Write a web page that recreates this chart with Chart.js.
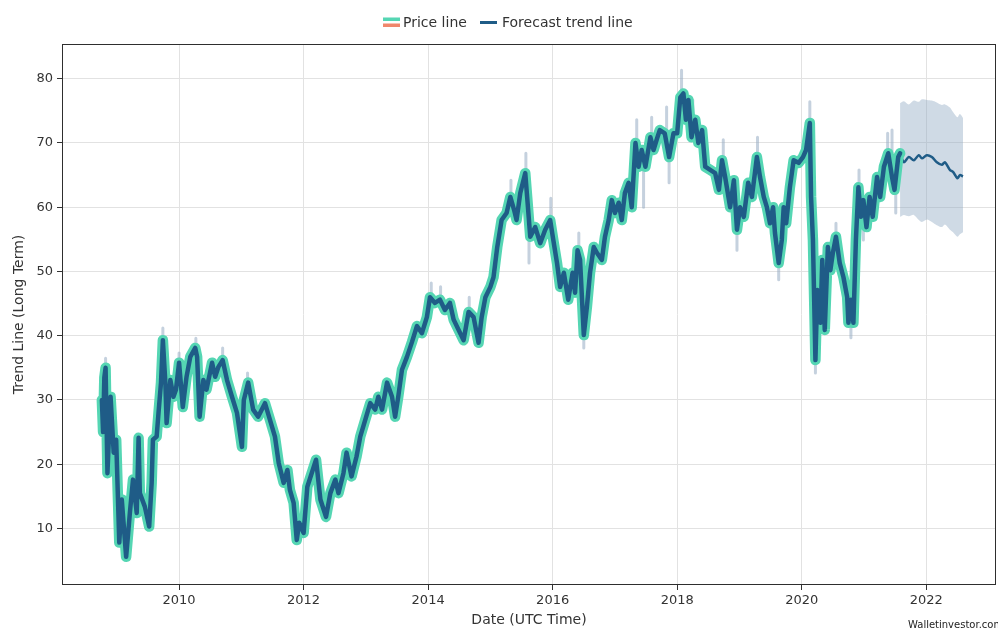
<!DOCTYPE html>
<html lang="en">
<head>
  <meta charset="UTF-8">
  <title>Trend Line (Long Term)</title>
  <script src="https://cdn.jsdelivr.net/npm/chart.js"></script>
  <style>
    html, body { margin: 0; padding: 0; background: #fff; }
    #trendChart { display: block; }
  </style>
</head>
<body>
  <canvas id="trendChart" width="998" height="631"></canvas>

  <script>
    // Price history (decimal years)
    const priceYears = [
      2008.76, 2008.78, 2008.80, 2008.82, 2008.85, 2008.90, 2008.95, 2008.99, 2009.04, 2009.08,
      2009.15, 2009.21, 2009.26, 2009.32, 2009.35, 2009.37, 2009.45, 2009.52, 2009.56, 2009.58,
      2009.64, 2009.67, 2009.71, 2009.74, 2009.78, 2009.80, 2009.86, 2009.91, 2009.95, 2010.00,
      2010.06, 2010.12, 2010.18, 2010.26, 2010.29, 2010.33, 2010.39, 2010.44, 2010.53, 2010.58,
      2010.63, 2010.70, 2010.77, 2010.85, 2010.93, 2011.01, 2011.04, 2011.11, 2011.19, 2011.27,
      2011.38, 2011.46, 2011.54, 2011.60, 2011.68, 2011.74, 2011.78, 2011.84, 2011.89, 2011.93,
      2012.00, 2012.06, 2012.13, 2012.20, 2012.27, 2012.36, 2012.43, 2012.51, 2012.56, 2012.64,
      2012.69, 2012.77, 2012.85, 2012.91, 2012.99, 2013.07, 2013.15, 2013.20, 2013.26, 2013.34,
      2013.42, 2013.47, 2013.52, 2013.58, 2013.66, 2013.74, 2013.82, 2013.90, 2013.98, 2014.03,
      2014.11, 2014.19, 2014.27, 2014.35, 2014.41, 2014.49, 2014.57, 2014.65, 2014.73, 2014.81,
      2014.86, 2014.92, 2015.00, 2015.05, 2015.11, 2015.18, 2015.26, 2015.32, 2015.38, 2015.42,
      2015.48, 2015.56, 2015.59, 2015.64, 2015.72, 2015.80, 2015.88, 2015.96, 2016.01, 2016.07,
      2016.12, 2016.18, 2016.25, 2016.32, 2016.36, 2016.40, 2016.44, 2016.50, 2016.55, 2016.60,
      2016.66, 2016.71, 2016.79, 2016.84, 2016.90, 2016.95, 2017.00, 2017.06, 2017.11, 2017.16,
      2017.22, 2017.27, 2017.33, 2017.38, 2017.43, 2017.49, 2017.57, 2017.62, 2017.67, 2017.72,
      2017.80, 2017.87, 2017.94, 2018.00, 2018.05, 2018.10, 2018.14, 2018.18, 2018.23, 2018.29,
      2018.34, 2018.40, 2018.45, 2018.53, 2018.61, 2018.67, 2018.72, 2018.77, 2018.85, 2018.91,
      2018.96, 2019.01, 2019.07, 2019.14, 2019.20, 2019.28, 2019.33, 2019.39, 2019.44, 2019.49,
      2019.54, 2019.57, 2019.63, 2019.68, 2019.71, 2019.75, 2019.81, 2019.87, 2019.95, 2020.02,
      2020.07, 2020.13, 2020.15, 2020.18, 2020.22, 2020.25, 2020.30, 2020.33, 2020.37, 2020.42,
      2020.46, 2020.50, 2020.55, 2020.61, 2020.67, 2020.73, 2020.75, 2020.79, 2020.83, 2020.87,
      2020.91, 2020.95, 2020.99, 2021.04, 2021.09, 2021.14, 2021.21, 2021.26, 2021.32, 2021.39,
      2021.45, 2021.49, 2021.55, 2021.58
    ];
    const priceValues = [
      30.0, 25.0, 33.5, 35.0, 18.6, 30.5, 21.8, 23.8, 7.8, 14.5,
      5.6, 12.4, 17.6, 12.4, 24.1, 15.5, 13.4, 10.3, 17.1, 23.8,
      24.3, 28.0, 32.7, 39.3, 32.7, 26.4, 33.1, 30.5, 31.6, 35.8,
      28.9, 33.6, 36.7, 38.1, 36.7, 27.4, 33.1, 31.6, 35.8, 33.6,
      35.1, 36.2, 33.1, 30.5, 28.0, 22.7, 30.0, 32.7, 28.5, 27.4,
      29.5, 26.9, 24.3, 20.2, 17.1, 19.1, 16.0, 14.0, 8.2, 10.9,
      9.3, 16.5, 18.6, 20.7, 14.5, 11.8, 15.5, 17.6, 15.5, 18.6,
      21.8, 18.1, 21.2, 24.3, 26.9, 29.5, 28.5, 30.5, 28.5, 32.7,
      30.5, 27.4, 30.5, 34.7, 36.7, 39.0, 41.5, 40.4, 42.9, 46.0,
      45.1, 45.6, 44.0, 45.1, 42.5, 40.9, 39.3, 43.7, 42.9, 38.9,
      42.9, 46.0, 47.6, 49.1, 53.8, 58.0, 59.1, 61.6, 59.6, 58.0,
      62.2, 65.3, 61.6, 55.4, 56.9, 54.4, 56.5, 58.0, 54.9, 51.3,
      47.6, 49.8, 45.6, 49.8, 46.7, 53.3, 51.8, 40.1, 44.5, 49.8,
      53.8, 52.9, 51.8, 55.4, 58.0, 61.1, 59.1, 60.7, 58.0, 62.2,
      63.8, 60.0, 70.0, 66.3, 68.9, 66.3, 70.9, 68.9, 70.5, 72.0,
      71.5, 67.8, 71.5, 71.5, 77.1, 77.7, 73.6, 76.7, 70.9, 73.6,
      70.0, 72.0, 66.3, 65.8, 65.3, 62.7, 67.3, 64.7, 60.0, 64.2,
      56.5, 60.0, 58.5, 63.8, 61.6, 67.8, 64.7, 61.6, 60.0, 57.5,
      60.0, 56.0, 51.3, 54.9, 60.0, 57.5, 63.1, 67.3, 66.9, 67.8,
      68.9, 73.1, 61.6, 54.9, 36.2, 47.1, 42.0, 51.8, 40.9, 53.8,
      50.2, 52.9, 55.4, 51.3, 49.1, 46.0, 42.0, 45.6, 42.0, 54.9,
      63.1, 58.5, 61.1, 56.9, 61.6, 58.5, 64.7, 61.6, 66.3, 68.4,
      64.7, 62.7, 67.8, 68.4
    ];

    // Intra-period high / low spikes around the price line
    const spikeYears = [
      2008.82, 2009.74, 2010.00, 2010.27, 2010.70, 2011.10, 2014.05, 2014.20,
      2014.66, 2015.33, 2015.57, 2015.62, 2015.97, 2016.42, 2016.50, 2017.35,
      2017.46, 2017.59, 2017.83, 2017.87, 2018.07, 2018.25, 2018.74, 2018.96,
      2019.29, 2019.63, 2020.13, 2020.22, 2020.55, 2020.79, 2020.92, 2020.99,
      2021.38, 2021.45, 2021.51
    ];
    const spikeBases = [
      35.0, 39.3, 35.8, 38.1, 36.2, 32.7, 46.0, 45.6,
      43.7, 61.6, 65.3, 55.4, 58.0, 53.3, 40.1, 70.0,
      66.3, 70.9, 71.5, 67.8, 77.7, 73.6, 67.3, 56.5,
      67.8, 51.3, 73.1, 36.2, 55.4, 42.0, 63.1, 58.0,
      68.4, 68.0, 62.7
    ];
    const spikeTips = [
      36.5, 41.2, 37.3, 39.6, 38.1, 34.2, 48.2, 47.6,
      46.0, 64.2, 68.4, 51.3, 61.4, 56.0, 38.1, 73.6,
      60.0, 74.0, 75.6, 63.8, 81.3, 76.7, 70.5, 53.3,
      70.9, 48.7, 76.4, 34.2, 57.5, 39.7, 65.8, 54.9,
      71.5, 72.0, 59.1
    ];

    // Forecast trend with its upper / lower range
    const forecastYears = [
      2021.58, 2021.64, 2021.72, 2021.80, 2021.88, 2021.93, 2022.01, 2022.09,
      2022.17, 2022.25, 2022.30, 2022.38, 2022.43, 2022.50, 2022.54, 2022.59
    ];
    const forecastValues = [
      68.4, 67.0, 67.8, 67.3, 68.1, 67.6, 68.1, 67.8,
      67.0, 66.6, 67.0, 65.8, 65.5, 64.5, 65.0, 64.8
    ];
    const forecastUpper = [
      76.2, 76.5, 76.0, 76.6, 76.4, 76.8, 76.7, 76.6,
      76.3, 75.9, 76.0, 75.5, 74.8, 74.0, 74.5, 73.9
    ];
    const forecastLower = [
      58.5, 58.8, 58.6, 58.8, 58.0, 57.7, 58.1, 57.7,
      57.2, 56.9, 57.3, 56.5, 56.1, 55.4, 55.8, 56.1
    ];

    const xTicks = [2010, 2012, 2014, 2016, 2018, 2020, 2022];
    const yTicks = [10, 20, 30, 40, 50, 60, 70, 80];

    const AQUA = '#55d6b3';
    const DARK = '#1f5c87';
    const SALMON = '#f0876c';
    const FONT = 'DejaVu Sans';

    const toPoints = (xs, ys) => xs.map((x, i) => ({ x: x, y: ys[i] }));

    // each spike is a short segment from the base to the tip, split by a gap
    const spikePoints = [];
    spikeYears.forEach((x, i) => {
      spikePoints.push({ x: x, y: spikeBases[i] }, { x: x, y: spikeTips[i] }, { x: x, y: null });
    });

    // legend row above the plot, plus the frame and the site credit
    const decorPlugin = {
      id: 'decor',
      afterDatasetsDraw(chart) {
        const { ctx, chartArea: a } = chart;
        ctx.save();
        ctx.strokeStyle = '#2e2e2e';
        ctx.lineWidth = 1;
        ctx.strokeRect(a.left + 0.5, a.top + 0.5, a.right - a.left - 1, a.bottom - a.top - 1);
        ctx.restore();
      },
      afterDraw(chart) {
        const ctx = chart.ctx;
        ctx.save();
        ctx.fillStyle = AQUA;
        ctx.fillRect(383, 17.5, 17, 3.5);
        ctx.fillStyle = SALMON;
        ctx.fillRect(383, 23.5, 17, 3.5);
        ctx.fillStyle = DARK;
        ctx.fillRect(480, 21, 17, 3);

        ctx.font = '14px "' + FONT + '"';
        ctx.fillStyle = '#333';
        ctx.textBaseline = 'middle';
        ctx.fillText('Price line', 403, 23);
        ctx.fillText('Forecast trend line', 502, 23);

        ctx.font = '10px "' + FONT + '"';
        ctx.fillStyle = '#222';
        ctx.fillText('Walletinvestor.com', 908, 625);
        ctx.restore();
      }
    };

    const ctx = document.getElementById('trendChart').getContext('2d');
    new Chart(ctx, {
      type: 'line',
      data: {
        datasets: [
          {
            label: 'Price line',
            data: toPoints(priceYears, priceValues),
            borderColor: DARK,
            borderWidth: 4.5,
            pointRadius: 0,
            borderJoinStyle: 'round',
            borderCapStyle: 'round'
          },
          {
            label: 'Price line glow',
            data: toPoints(priceYears, priceValues),
            borderColor: AQUA,
            borderWidth: 10.5,
            pointRadius: 0,
            borderJoinStyle: 'round',
            borderCapStyle: 'round'
          },
          {
            label: 'Price range',
            data: spikePoints,
            borderColor: 'rgba(150, 172, 195, 0.55)',
            borderWidth: 3,
            pointRadius: 0,
            spanGaps: false,
            borderCapStyle: 'round'
          },
          {
            label: 'Forecast trend line',
            data: toPoints(forecastYears, forecastValues),
            borderColor: DARK,
            borderWidth: 2.5,
            pointRadius: 0,
            tension: 0.3
          },
          {
            label: 'Forecast upper',
            data: toPoints(forecastYears, forecastUpper),
            borderWidth: 0,
            pointRadius: 0,
            backgroundColor: 'rgba(140, 168, 192, 0.42)',
            fill: '+1',
            tension: 0.3
          },
          {
            label: 'Forecast lower',
            data: toPoints(forecastYears, forecastLower),
            borderWidth: 0,
            pointRadius: 0,
            tension: 0.3
          }
        ]
      },
      options: {
        responsive: false,
        animation: false,
        layout: { padding: { top: 44, right: 2, left: 0, bottom: 0 } },
        plugins: {
          tooltip: { enabled: false },
          legend: { display: false }
        },
        scales: {
          x: {
            type: 'linear',
            min: 2008.12,
            max: 2023.12,
            afterBuildTicks(scale) { scale.ticks = xTicks.map(v => ({ value: v })); },
            afterFit(scale) { scale.height = 46; },
            ticks: {
              color: '#333',
              padding: 3,
              maxRotation: 0,
              font: { family: FONT, size: 13 },
              callback: v => String(v)
            },
            grid: { color: '#e2e2e2', tickColor: '#333', tickLength: 5 },
            border: { display: false },
            title: {
              display: true,
              text: 'Date (UTC Time)',
              color: '#333',
              font: { family: FONT, size: 14 },
              padding: { top: 0, bottom: 2 }
            }
          },
          y: {
            type: 'linear',
            min: 1.2,
            max: 85.4,
            afterBuildTicks(scale) { scale.ticks = yTicks.map(v => ({ value: v })); },
            afterFit(scale) { scale.width = 62; },
            ticks: {
              color: '#333',
              padding: 4,
              font: { family: FONT, size: 13 },
              callback: v => String(v)
            },
            grid: { color: '#e2e2e2', tickColor: '#333', tickLength: 5 },
            border: { display: false },
            title: {
              display: true,
              text: 'Trend Line (Long Term)',
              color: '#333',
              font: { family: FONT, size: 14 },
              padding: { top: 11, bottom: 0 }
            }
          }
        }
      },
      plugins: [decorPlugin]
    });
  </script>
</body>
</html>
